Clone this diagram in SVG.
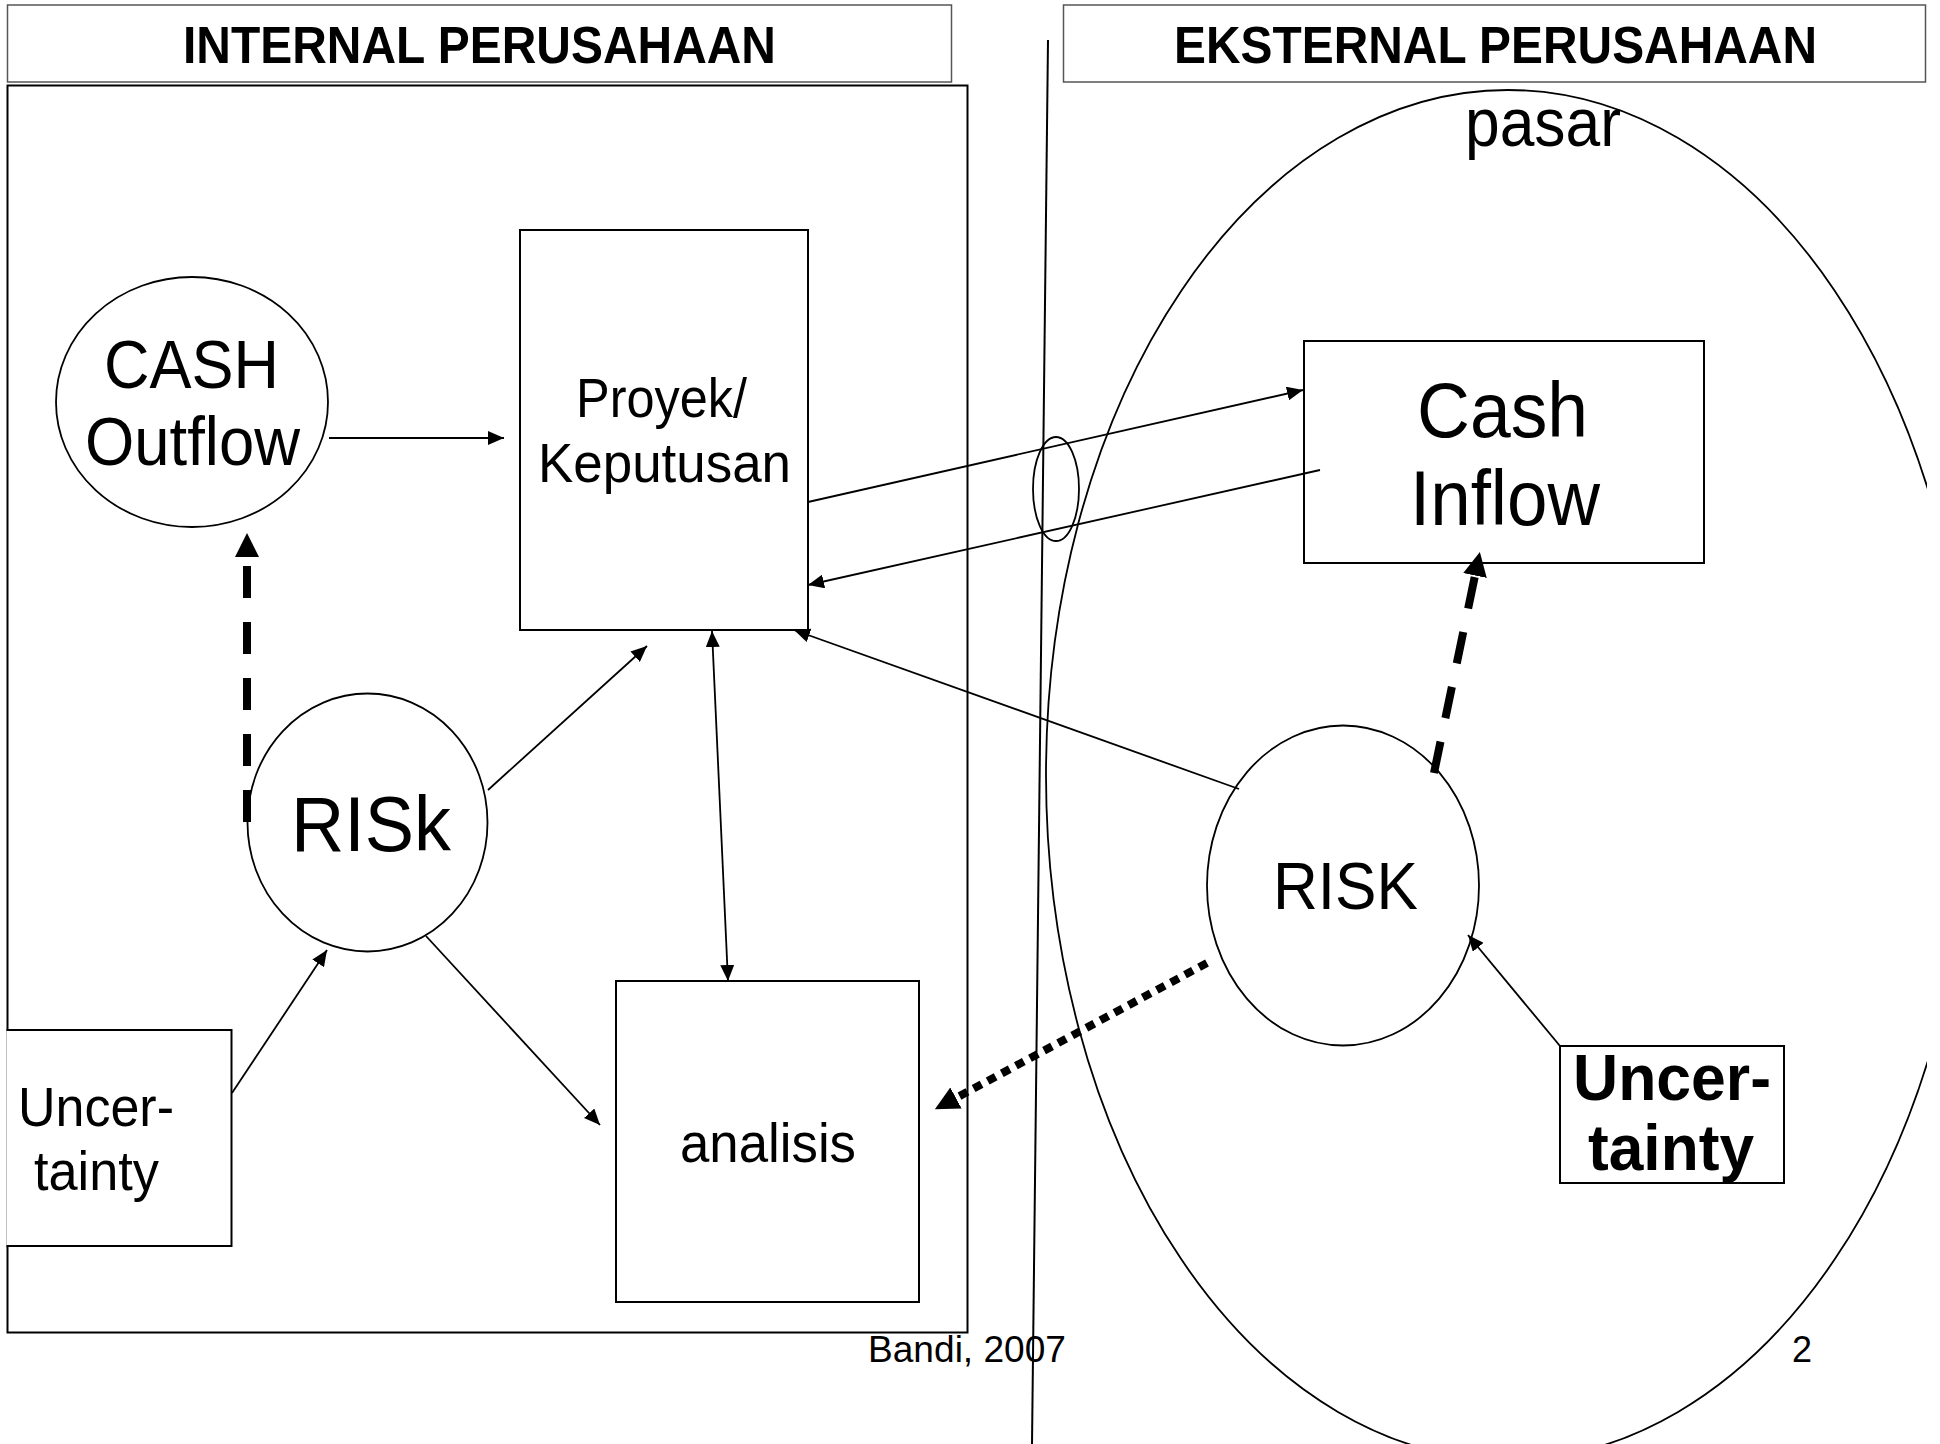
<svg xmlns="http://www.w3.org/2000/svg" width="1940" height="1444" viewBox="0 0 1940 1444">
<style>
.t{font-family:"Liberation Sans",Arial,Helvetica,sans-serif;fill:#000}
.b{font-weight:bold}
.box{fill:#fff;stroke:#000;stroke-width:2}
.hdr{fill:#fff;stroke:#555;stroke-width:1.5}
.ell{fill:#fff;stroke:#000;stroke-width:1.8}
.ln{fill:none;stroke:#000;stroke-width:1.8}
.thick{fill:none;stroke:#000;stroke-width:8}
</style>
<defs>
<marker id="ah" viewBox="0 0 16 14" refX="16" refY="7" markerWidth="16" markerHeight="14" markerUnits="userSpaceOnUse" orient="auto-start-reverse"><path d="M0,0 L16,7 L0,14 z" fill="#000"/></marker>
<marker id="bh" viewBox="0 0 24 24" refX="0" refY="12" markerWidth="24" markerHeight="24" markerUnits="userSpaceOnUse" orient="auto"><path d="M0,0 L24,12 L0,24 z" fill="#000"/></marker>
<clipPath id="slide"><rect x="0" y="0" width="1927" height="1444"/></clipPath>
</defs>
<rect x="0" y="0" width="1940" height="1444" fill="#fff"/>

<g id="internal-area">
<rect x="7.5" y="85.5" width="960" height="1247" fill="#fff" stroke="#000" stroke-width="2"/>
</g>
<g id="header-internal">
<rect class="hdr" x="7.5" y="5" width="944" height="77"/>
<text class="t b" x="183" y="63" font-size="51" textLength="593" lengthAdjust="spacingAndGlyphs">INTERNAL PERUSAHAAN</text>
</g>
<g id="header-eksternal">
<rect class="hdr" x="1063.5" y="5" width="862" height="77"/>
<text class="t b" x="1174" y="63" font-size="51" textLength="643" lengthAdjust="spacingAndGlyphs">EKSTERNAL PERUSAHAAN</text>
</g>
<g id="pasar">
<ellipse cx="1508" cy="775" rx="462" ry="685" fill="none" stroke="#000" stroke-width="1.8" clip-path="url(#slide)"/>
<text class="t" x="1465" y="146" font-size="68" textLength="156" lengthAdjust="spacingAndGlyphs">pasar</text>
</g>
<g id="divider">
<line x1="1048" y1="40" x2="1032" y2="1444" stroke="#000" stroke-width="2"/>
<ellipse cx="1056" cy="489" rx="23" ry="52" fill="none" stroke="#000" stroke-width="1.8"/>
</g>

<g id="uncertainty-internal">
<path d="M6.5,1030 H231.5 V1246 H6.5" fill="#fff" stroke="#000" stroke-width="2"/>
<text class="t" x="18" y="1126" font-size="55" textLength="156" lengthAdjust="spacingAndGlyphs">Uncer-</text>
<text class="t" x="34" y="1190" font-size="55" textLength="125" lengthAdjust="spacingAndGlyphs">tainty</text>
</g>
<g id="cash-outflow">
<ellipse class="ell" cx="192" cy="402" rx="136" ry="125"/>
<text class="t" x="104" y="388" font-size="68" textLength="175" lengthAdjust="spacingAndGlyphs">CASH</text>
<text class="t" x="85" y="465" font-size="68" textLength="215" lengthAdjust="spacingAndGlyphs">Outflow</text>
</g>
<g id="proyek">
<rect class="box" x="520" y="230" width="288" height="400"/>
<text class="t" x="576" y="417" font-size="55" textLength="171" lengthAdjust="spacingAndGlyphs">Proyek/</text>
<text class="t" x="538" y="482" font-size="55" textLength="253" lengthAdjust="spacingAndGlyphs">Keputusan</text>
</g>
<g id="cash-inflow">
<rect class="box" x="1304" y="341" width="400" height="222"/>
<text class="t" x="1417" y="437" font-size="78" textLength="171" lengthAdjust="spacingAndGlyphs">Cash</text>
<text class="t" x="1410" y="525" font-size="78" textLength="190" lengthAdjust="spacingAndGlyphs">Inflow</text>
</g>
<g id="risk-internal">
<ellipse class="ell" cx="367.5" cy="822.5" rx="120" ry="129"/>
<text class="t" x="291" y="851" font-size="78" textLength="160" lengthAdjust="spacingAndGlyphs">RISk</text>
</g>
<g id="risk-external">
<ellipse class="ell" cx="1343" cy="885.5" rx="136" ry="160"/>
<text class="t" x="1273" y="909" font-size="66" textLength="145" lengthAdjust="spacingAndGlyphs">RISK</text>
</g>
<g id="analisis">
<rect class="box" x="616" y="981" width="303" height="321"/>
<text class="t" x="680" y="1162" font-size="55" textLength="176" lengthAdjust="spacingAndGlyphs">analisis</text>
</g>
<g id="uncertainty-external">
<rect class="box" x="1560" y="1046" width="224" height="137"/>
<text class="t b" x="1573" y="1100" font-size="65" textLength="198" lengthAdjust="spacingAndGlyphs">Uncer-</text>
<text class="t b" x="1588" y="1170" font-size="65" textLength="166" lengthAdjust="spacingAndGlyphs">tainty</text>
</g>

<g id="connectors">
<path class="ln" d="M329,438 L504,438" marker-end="url(#ah)"/>
<path class="thick" d="M247,822 L247,557" stroke-dasharray="32 24" marker-end="url(#bh)"/>
<path class="ln" d="M488,790 L647,646" marker-end="url(#ah)"/>
<path class="ln" d="M232,1093 L327,950" marker-end="url(#ah)"/>
<path class="ln" d="M426,936 L600,1125" marker-end="url(#ah)"/>
<path class="ln" d="M712,631 L728,981" marker-start="url(#ah)" marker-end="url(#ah)"/>
<path class="ln" d="M808,502 L1303,390" marker-end="url(#ah)"/>
<path class="ln" d="M1320,470 L808,585" marker-end="url(#ah)"/>
<path class="ln" d="M1239,789 L794,630" marker-end="url(#ah)"/>
<path class="thick" d="M1434,773 L1475,575.5" stroke-dasharray="32 24" marker-end="url(#bh)"/>
<path class="thick" d="M1207,963 L956,1098" stroke-dasharray="9 7" marker-end="url(#bh)"/>
<path class="ln" d="M1560,1046 L1468,935" marker-end="url(#ah)"/>
</g>

<g id="footer">
<text class="t" x="868" y="1362" font-size="36" textLength="198" lengthAdjust="spacingAndGlyphs">Bandi, 2007</text>
<text class="t" x="1792" y="1362" font-size="36">2</text>
</g>
</svg>
